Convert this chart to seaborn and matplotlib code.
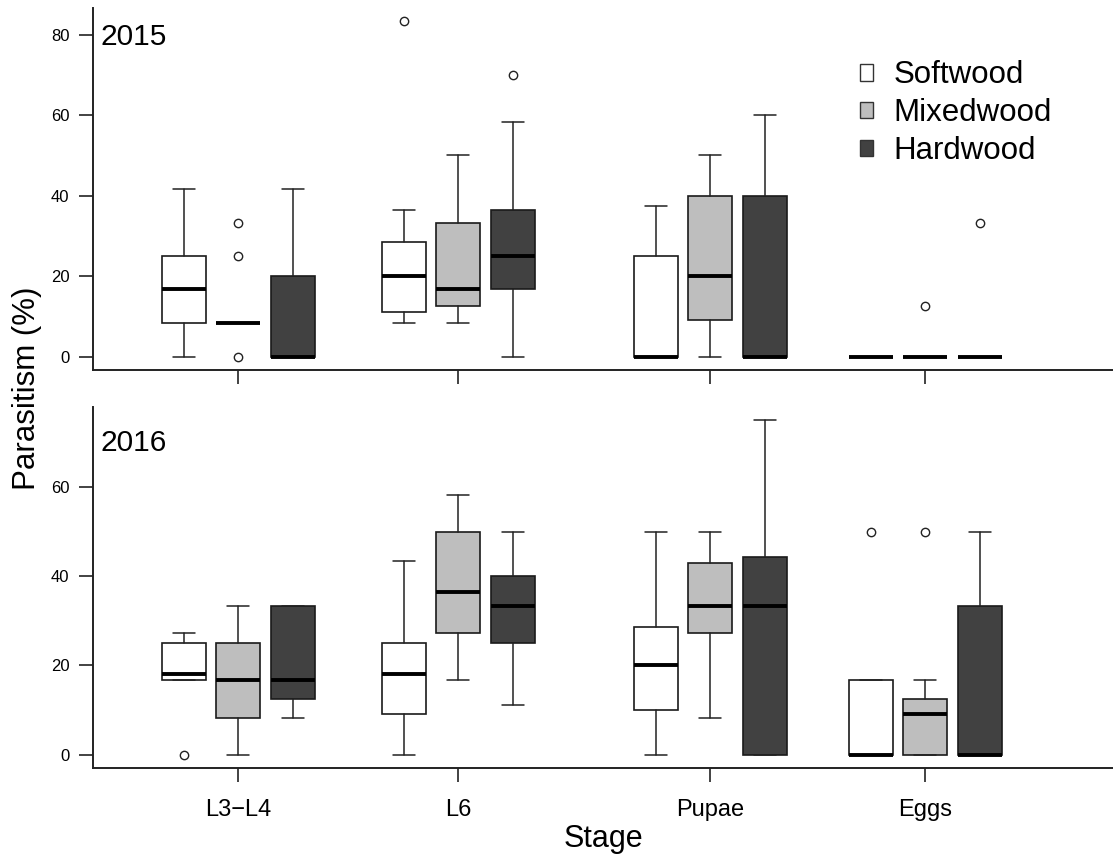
import matplotlib
matplotlib.use("Agg")
import matplotlib.pyplot as plt
import seaborn as sns
from matplotlib.patches import Patch

# ---------------- data ----------------
stages = ["L3\u2212L4", "L6", "Pupae", "Eggs"]
habitats = ["Softwood", "Mixedwood", "Hardwood"]
habitat_colors = ["#FFFFFF", "#BEBEBE", "#414141"]

# order: stage-major, habitat-minor (Soft, Mixed, Hard)
whislo_2015 = [0, 8.33, 0, 8.33, 8.33, 0, 0, 0, 0, 0, 0, 0]
q1_2015 = [8.33, 8.33, 0, 11.1, 12.5, 16.7, 0, 9.1, 0, 0, 0, 0]
med_2015 = [16.7, 8.33, 0, 20, 16.7, 25, 0, 20, 0, 0, 0, 0]
q3_2015 = [25, 8.33, 20, 28.6, 33.3, 36.4, 25, 40, 40, 0, 0, 0]
whishi_2015 = [41.7, 8.33, 41.7, 36.4, 50, 58.3, 37.5, 50, 60, 0, 0, 0]
fliers_2015 = [[], [33.3, 25, 0], [], [83.3], [], [70], [], [], [], [], [12.5], [33.3]]

whislo_2016 = [16.7, 0, 8.33, 0, 16.7, 11.1, 0, 8.33, 0, 0, 0, 0]
q1_2016 = [16.7, 8.33, 12.5, 9.1, 27.3, 25, 10, 27.3, 0, 0, 0, 0]
med_2016 = [18.2, 16.7, 16.7, 18.2, 36.4, 33.3, 20, 33.3, 33.3, 0, 9.1, 0]
q3_2016 = [25, 25, 33.3, 25, 50, 40, 28.6, 42.9, 44.4, 16.7, 12.5, 33.3]
whishi_2016 = [27.3, 33.3, 33.3, 43.4, 58.3, 50, 50, 50, 75, 16.7, 16.7, 50]
fliers_2016 = [[0], [], [], [], [], [], [], [], [], [50], [50], []]

years = ["2015", "2016"]
yticks_2015 = [0, 20, 40, 60, 80]
yticks_2016 = [0, 20, 40, 60]

# ---------------- layout ----------------
GROUP_X = [238, 458, 710, 925]
HUE_OFFSET = [-54.5, 0, 54.5]
BOX_W = 44
XLIM = (93, 1113)

sns.set_theme(style="ticks")
plt.rcParams["font.family"] = ["Liberation Sans", "DejaVu Sans"]
for key in ["text.color", "axes.labelcolor", "xtick.color", "ytick.color"]:
    plt.rcParams[key] = "black"

W, H = 1113, 859
fig = plt.figure(figsize=(W / 100, H / 100), dpi=100)


def px_axes(left, top, right, bottom):
    return fig.add_axes([left / W, 1 - bottom / H, (right - left) / W, (bottom - top) / H])


ax_top = px_axes(93, 8, 1113, 370)
ax_bot = px_axes(93, 407, 1113, 768)

panels = [
    (ax_top, whislo_2015, q1_2015, med_2015, q3_2015, whishi_2015, fliers_2015, yticks_2015, "2015"),
    (ax_bot, whislo_2016, q1_2016, med_2016, q3_2016, whishi_2016, fliers_2016, yticks_2016, "2016"),
]

for ax, wl, q1, med, q3, wh, fl, yt, yr in panels:
    positions, colors, stats = [], [], []
    for gi in range(len(stages)):
        for hi in range(len(habitats)):
            k = gi * len(habitats) + hi
            stats.append(dict(whislo=wl[k], q1=q1[k], med=med[k], q3=q3[k],
                              whishi=wh[k], fliers=fl[k]))
            positions.append(GROUP_X[gi] + HUE_OFFSET[hi])
            colors.append(habitat_colors[hi])
    bp = ax.bxp(stats, positions=positions, widths=BOX_W, patch_artist=True,
                showfliers=True, manage_ticks=False,
                boxprops=dict(edgecolor="#1a1a1a", linewidth=1.2),
                whiskerprops=dict(color="#222222", linewidth=1.1),
                capprops=dict(color="#222222", linewidth=1.1),
                medianprops=dict(color="black", linewidth=2.8, solid_capstyle="butt"),
                flierprops=dict(marker="o", markerfacecolor="white",
                                markeredgecolor="#222222", markersize=6,
                                markeredgewidth=1.0, linestyle="none"))
    for patch, c in zip(bp["boxes"], colors):
        patch.set_facecolor(c)
    for cap in bp["caps"]:
        x0, x1 = cap.get_xdata()
        cx = (x0 + x1) / 2
        cap.set_xdata([cx - BOX_W / 4, cx + BOX_W / 4])

    top = max(max(wh), max([max(f) if f else 0 for f in fl]))
    pad = 0.04 * top
    ax.set_ylim(-pad, top + pad)
    ax.set_xlim(*XLIM)
    ax.set_yticks(yt)
    ax.set_yticklabels([str(v) for v in yt])
    ax.set_xticks(GROUP_X)
    ax.tick_params(axis="y", labelsize=12, length=10, width=1.2, pad=7,
                   color="#222222", labelcolor="black")
    ax.tick_params(axis="x", labelsize=17, length=10, width=1.2, pad=12,
                   color="#222222", labelcolor="black")
    sns.despine(ax=ax)
    for s in ["left", "bottom"]:
        ax.spines[s].set_linewidth(1.4)
        ax.spines[s].set_color("#222222")
    ax.set_facecolor("white")
    ax.text(7 / 1020, 0.92 if yr == "2015" else 0.90, yr, transform=ax.transAxes,
            fontsize=21.5, ha="left", va="center", color="black")

ax_top.set_xticklabels([])
ax_bot.set_xticklabels(stages)

handles = [Patch(facecolor=c, edgecolor="#333333", linewidth=1.0) for c in habitat_colors]
leg = ax_top.legend(handles, habitats, loc="upper left",
                    bbox_to_anchor=((860 - 93) / 1020, 0.855),
                    frameon=False, fontsize=22.5, handlelength=0.43, handleheight=0.43,
                    handletextpad=0.65, labelspacing=0.25, borderpad=0, borderaxespad=0)
for t in leg.get_texts():
    t.set_color("black")

fig.text(27 / W, 1 - 388 / H, "Parasitism (%)", rotation=90, fontsize=22.5,
         ha="center", va="center", color="black")
fig.text(603 / W, 1 - 839 / H, "Stage", fontsize=22, ha="center", va="center",
         color="black")

fig.savefig("out.png", dpi=100, facecolor="white")
